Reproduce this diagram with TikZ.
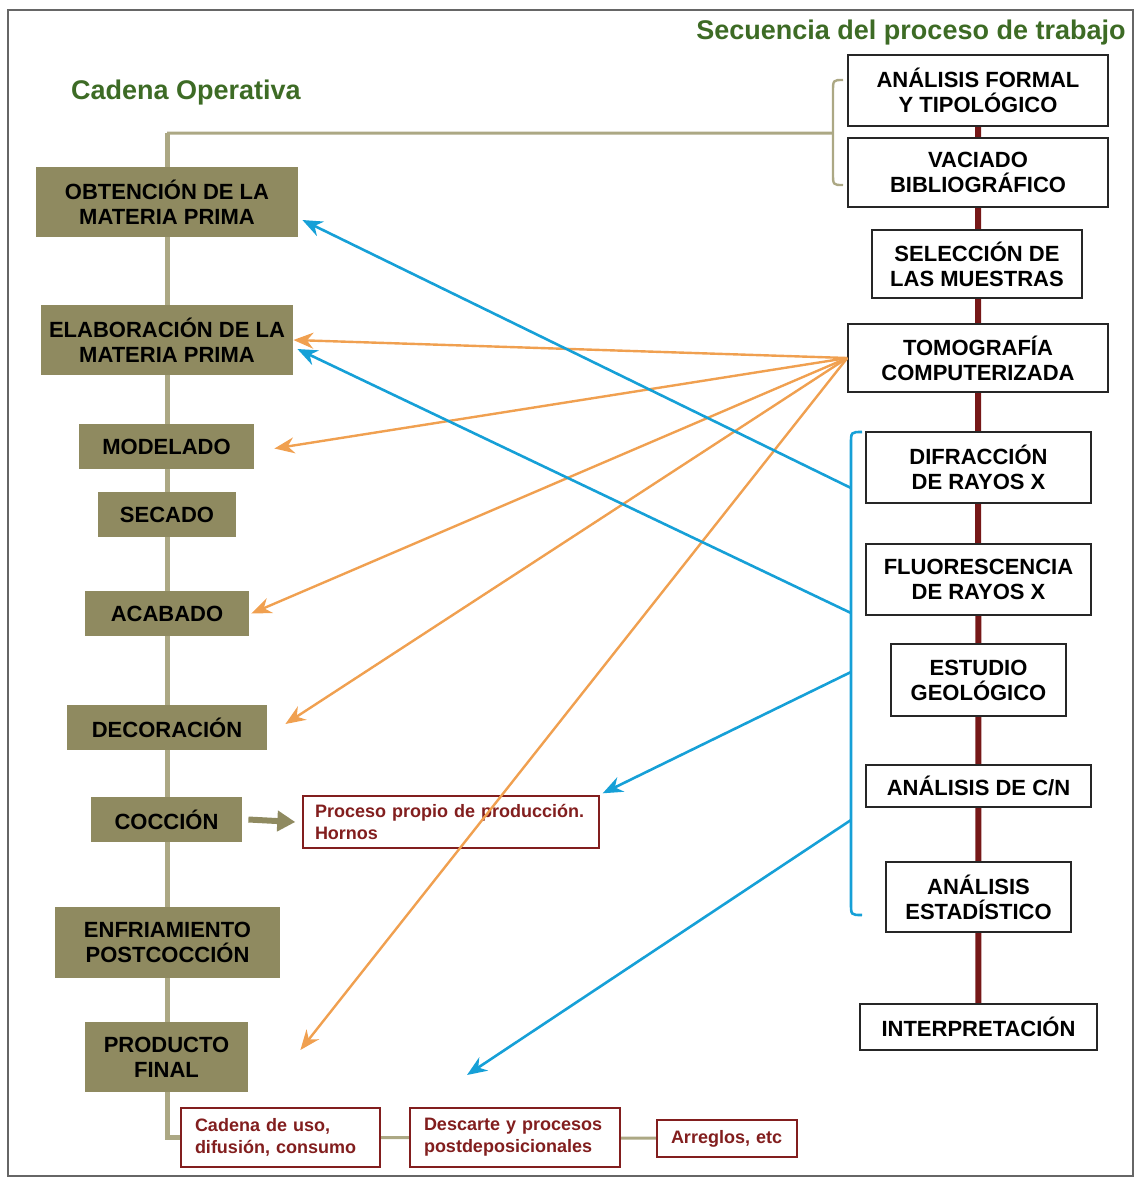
\documentclass[tikz,border=0pt]{standalone}
\usepackage{fontspec}
\setmainfont{Liberation Sans}
\usetikzlibrary{arrows.meta,backgrounds}
\definecolor{oliva}{RGB}{143,138,96}
\definecolor{olivaclara}{RGB}{172,168,132}
\definecolor{verde}{RGB}{61,107,37}
\definecolor{granate}{RGB}{118,24,24}
\definecolor{rojo}{RGB}{130,30,30}
\definecolor{naranja}{RGB}{240,160,80}
\definecolor{azul}{RGB}{22,160,215}
\begin{document}
\begin{tikzpicture}[font=\bfseries\fontsize{11}{12.5}\selectfont,>={Stealth[length=10pt,width=8pt]},x=0.5pt,y=-0.5pt,
    etapa/.style={fill=oliva,text=black,align=center,inner sep=0pt},
    paso/.style={draw=black!85,line width=0.7pt,fill=white,align=center,inner sep=0pt},
    nota/.style={draw=rojo,line width=0.7pt,fill=white,text=rojo,align=left,inner xsep=7pt,inner ysep=0pt,font=\bfseries\fontsize{9}{11}\selectfont},
    titulo/.style={text=verde,font=\bfseries\fontsize{13.5}{15}\selectfont},
    flechanar/.style={->,draw=naranja,line width=1.2pt},
    flechaazul/.style={->,draw=azul,line width=1.3pt}]
    \useasboundingbox (0,0) rectangle (1134,1180);
    \draw[black!60,line width=0.8pt] (8,10) rectangle (1133,1176);
    \node[titulo] (tsec) at (911,33) {Secuencia del proceso de trabajo};
    \node[titulo] (tcad) at (186,93) {Cadena Operativa};
    \node[paso,minimum width=130pt,minimum height=35.5pt] (afo) at (978,90.5) {ANÁLISIS FORMAL\\Y TIPOLÓGICO};
    \node[paso,minimum width=130pt,minimum height=34.5pt] (vac) at (978,172.5) {VACIADO\\BIBLIOGRÁFICO};
    \node[paso,minimum width=105pt,minimum height=34pt] (sel) at (977,264) {SELECCIÓN DE\\LAS MUESTRAS};
    \node[paso,minimum width=130pt,minimum height=34pt] (tom) at (978,358) {TOMOGRAFÍA\\COMPUTERIZADA};
    \node[paso,minimum width=112.5pt,minimum height=35.5pt] (dif) at (978.5,467.5) {DIFRACCIÓN\\DE RAYOS X};
    \node[paso,minimum width=112.5pt,minimum height=35.5pt] (flu) at (978.5,579.5) {FLUORESCENCIA\\DE RAYOS X};
    \node[paso,minimum width=87.5pt,minimum height=36pt] (geo) at (978.5,680) {ESTUDIO\\GEOLÓGICO};
    \node[paso,minimum width=112.5pt,minimum height=21pt] (acn) at (978.5,786) {ANÁLISIS DE C/N};
    \node[paso,minimum width=92.5pt,minimum height=35pt] (est) at (978.5,897) {ANÁLISIS\\ESTADÍSTICO};
    \node[paso,minimum width=118.5pt,minimum height=23pt] (int) at (978.5,1027) {INTERPRETACIÓN};
    \node[etapa,minimum width=131pt,minimum height=35pt] (obt) at (167,202) {OBTENCIÓN DE LA\\MATERIA PRIMA};
    \node[etapa,minimum width=126pt,minimum height=35pt] (ela) at (167,340) {ELABORACIÓN DE LA\\MATERIA PRIMA};
    \node[etapa,minimum width=87.5pt,minimum height=22.5pt] (mod) at (166.5,446.5) {MODELADO};
    \node[etapa,minimum width=69pt,minimum height=22.5pt] (sec) at (167,514.5) {SECADO};
    \node[etapa,minimum width=82pt,minimum height=22.5pt] (aca) at (167,613.5) {ACABADO};
    \node[etapa,minimum width=100pt,minimum height=22.5pt] (dec) at (167,727.5) {DECORACIÓN};
    \node[etapa,minimum width=75.5pt,minimum height=22.5pt] (coc) at (166.5,819.5) {COCCIÓN};
    \node[etapa,minimum width=112.5pt,minimum height=35.5pt] (enf) at (167.5,942.5) {ENFRIAMIENTO\\POSTCOCCIÓN};
    \node[etapa,minimum width=81.5pt,minimum height=35pt] (pro) at (166.5,1057) {PRODUCTO\\FINAL};
    \node[nota,inner xsep=6pt,text width=136pt,minimum height=26pt] (hor) at (451,822) {\mbox{Proceso propio de producción.}\\Hornos};
    \node[nota,text width=85.5pt,minimum height=29.5pt] (uso) at (280.5,1137.5) {Cadena de uso,\\difusión, consumo};
    \node[nota,text width=91pt,minimum height=29.5pt] (des) at (515,1137.5) {Descarte y procesos\\postdeposicionales};
    \node[nota,text width=56pt,minimum height=18.5pt] (arr) at (727,1138.5) {Arreglos, etc};
    \coordinate (esq) at (167,133);
    \coordinate (llave) at (833,133);
    \coordinate (b1) at (851,488);
    \coordinate (b2) at (851,613);
    \coordinate (b3) at (851,672);
    \coordinate (b4) at (851,820);
    \coordinate (fin) at (467,1075);
    \begin{scope}[on background layer]
        \draw[granate,line width=3pt] (afo) -- (int);
        \draw[olivaclara,line width=2.5pt] (esq) -- (esq |- uso.west) -- (uso.west);
        \draw[olivaclara,line width=1.5pt] (uso) -- (des) (des) -- (arr) (esq) -- (llave);
    \end{scope}
    \draw[olivaclara,line width=1.2pt] (843,80) .. controls (833,80) .. (833,92) -- (833,173) .. controls (833,185) .. (843,185);
    \draw[azul,line width=1.3pt] (862,432) .. controls (851,432) .. (851,444) -- (851,903) .. controls (851,915) .. (862,915);
    \draw[-{Triangle[length=9pt,width=10pt]},oliva,line width=3pt] ([xshift=3pt]coc.east) -- ([xshift=-3.5pt]hor.west);
    \draw[flechanar] (tom.west) -- (ela.east);
    \draw[flechanar] (tom.west) -- ([xshift=10pt,yshift=-1pt]mod.east);
    \draw[flechanar] (tom.west) -- ([xshift=1pt]aca.east);
    \draw[flechanar] (tom.west) -- ([xshift=9pt,yshift=1.75pt]dec.east);
    \draw[flechanar] (tom.west) -- ([xshift=26pt,yshift=3.5pt]pro.east);
    \draw[flechaazul] (b1) -- ([xshift=2pt,yshift=-9pt]obt.east);
    \draw[flechaazul] (b2) -- ([xshift=2pt,yshift=-4.5pt]ela.east);
    \draw[flechaazul] (b3) -- ([xshift=1.5pt,yshift=1pt]hor.north east);
    \draw[flechaazul] (b4) -- (fin);
\end{tikzpicture}
\end{document}
